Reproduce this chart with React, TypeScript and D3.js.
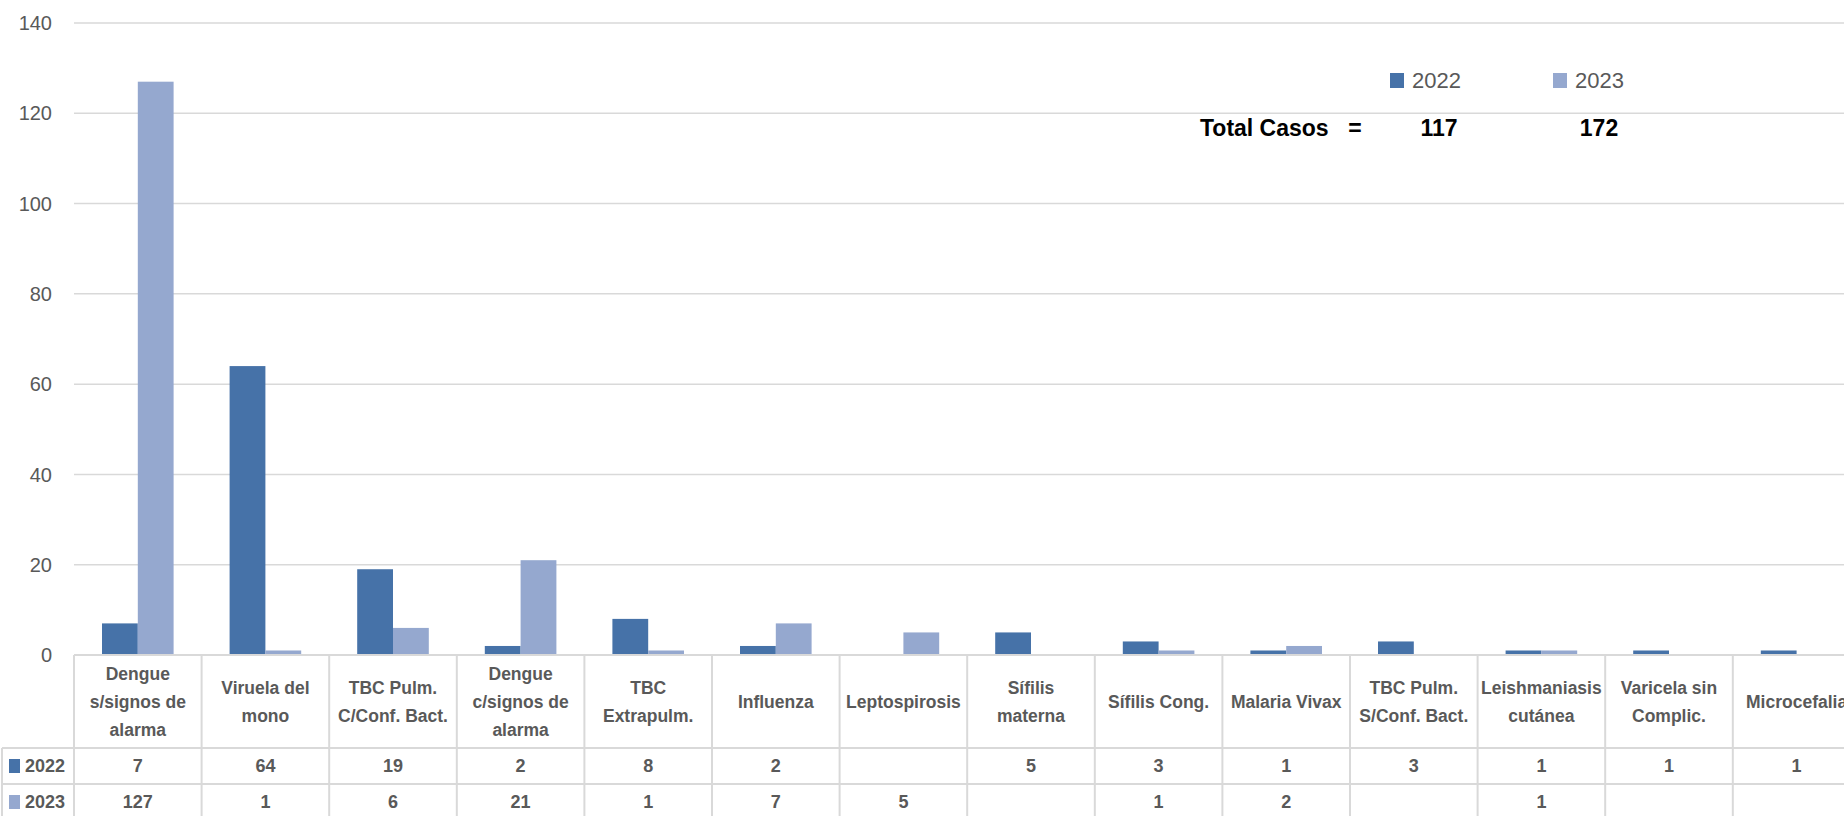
import React from 'react';
import * as d3 from 'd3';

// categories as shown in the table header (line breaks kept)
const categories = [
  'Dengue s/signos de alarma',
  'Viruela del mono',
  'TBC Pulm. C/Conf. Bact.',
  'Dengue c/signos de alarma',
  'TBC Extrapulm.',
  'Influenza',
  'Leptospirosis',
  'Sífilis materna',
  'Sífilis Cong.',
  'Malaria Vivax',
  'TBC Pulm. S/Conf. Bact.',
  'Leishmaniasis cutánea',
  'Varicela sin Complic.',
  'Microcefalia',
];
const categoryLines = [
  ['Dengue', 's/signos de', 'alarma'],
  ['Viruela del', 'mono'],
  ['TBC Pulm.', 'C/Conf. Bact.'],
  ['Dengue', 'c/signos de', 'alarma'],
  ['TBC', 'Extrapulm.'],
  ['Influenza'],
  ['Leptospirosis'],
  ['Sífilis', 'materna'],
  ['Sífilis Cong.'],
  ['Malaria Vivax'],
  ['TBC Pulm.', 'S/Conf. Bact.'],
  ['Leishmaniasis', 'cutánea'],
  ['Varicela sin', 'Complic.'],
  ['Microcefalia'],
];

const series = ['2022', '2023'];
const values2022: (number | null)[] = [7, 64, 19, 2, 8, 2, null, 5, 3, 1, 3, 1, 1, 1];
const values2023: (number | null)[] = [127, 1, 6, 21, 1, 7, 5, null, 1, 2, null, 1, null, null];
const seriesValues = [values2022, values2023];
const seriesColors = ['#4672A8', '#95A8CF'];
const totals = [117, 172];
const yTicks = [0, 20, 40, 60, 80, 100, 120, 140];

const W = 1844;
const H = 816;
const FONT = "'Liberation Sans', Arial, sans-serif";
const GRID = '#d9d9d9';
const TEXT = '#595959';

export default function App() {
  const left = 74;
  const bandW = 127.6;
  const x = d3.scaleBand<string>()
    .domain(categories)
    .range([left, left + bandW * categories.length])
    .paddingInner(0)
    .paddingOuter(0);
  const xs = d3.scaleBand<string>().domain(series).range([28, bandW - 28]);
  const y = d3.scaleLinear().domain([0, 140]).range([655, 23]);

  const base = y(0);
  const row1 = 748;
  const row2 = 784;
  const right = W;

  return (
    <svg width={W} height={H} style={{ position: 'absolute', left: 0, top: 0, background: '#fff' }}
      fontFamily={FONT}>
      {/* gridlines */}
      {yTicks.filter(t => t > 0).map(t => (
        <line key={t} x1={left} x2={right} y1={y(t)} y2={y(t)} stroke={GRID} strokeWidth={1.5} />
      ))}
      {yTicks.map(t => (
        <text key={'l' + t} x={52} y={y(t)} dy="0.36em" textAnchor="end" fontSize={20} fill={TEXT}>{t}</text>
      ))}

      {/* bars */}
      {categories.map((c, i) => (
        <g key={c} transform={`translate(${x(c)},0)`}>
          {series.map((s, j) => {
            const v = seriesValues[j][i];
            if (v == null) return null;
            return (
              <rect key={s} x={xs(s)} y={y(v)} width={xs.bandwidth()} height={base - y(v)}
                fill={seriesColors[j]} />
            );
          })}
        </g>
      ))}

      {/* data table */}
      <line x1={left} x2={right} y1={base} y2={base} stroke={GRID} strokeWidth={2} />
      <line x1={2} x2={right} y1={row1} y2={row1} stroke={GRID} strokeWidth={2} />
      <line x1={2} x2={right} y1={row2} y2={row2} stroke={GRID} strokeWidth={2} />
      <line x1={2} x2={2} y1={row1} y2={H} stroke={GRID} strokeWidth={2} />
      {categories.map(c => (
        <line key={'v' + c} x1={x(c)} x2={x(c)} y1={base} y2={H} stroke={GRID} strokeWidth={2} />
      ))}
      <line x1={left + bandW * categories.length} x2={left + bandW * categories.length} y1={base} y2={H}
        stroke={GRID} strokeWidth={2} />

      {categories.map((c, i) => {
        const lines = categoryLines[i];
        const cx = (x(c) as number) + bandW / 2;
        const mid = (base + row1) / 2;
        const lh = 28;
        const start = mid - ((lines.length - 1) * lh) / 2;
        return (
          <text key={'t' + c} textAnchor="middle" fontSize={17.5} fontWeight="bold" fill={TEXT}>
            {lines.map((ln, k) => (
              <tspan key={k} x={cx} y={start + k * lh} dy="0.36em">{ln}</tspan>
            ))}
          </text>
        );
      })}

      {series.map((s, j) => {
        const top = j === 0 ? row1 : row2;
        const cy = top + 18;
        return (
          <g key={'row' + s}>
            <rect x={9} y={cy - 7} width={11} height={14} fill={seriesColors[j]} />
            <text x={25} y={cy} dy="0.36em" fontSize={18} fontWeight="bold" fill={TEXT}>{s}</text>
            {categories.map((c, i) => {
              const v = seriesValues[j][i];
              if (v == null) return null;
              return (
                <text key={c} x={(x(c) as number) + bandW / 2} y={cy} dy="0.36em" textAnchor="middle"
                  fontSize={18} fontWeight="bold" fill={TEXT}>{v}</text>
              );
            })}
          </g>
        );
      })}

      {/* legend */}
      {series.map((s, j) => {
        const lx = j === 0 ? 1390 : 1553;
        return (
          <g key={'lg' + s}>
            <rect x={lx} y={73} width={14} height={15} fill={seriesColors[j]} />
            <text x={lx + 22} y={80.5} dy="0.36em" fontSize={22} fill={TEXT}>{s}</text>
          </g>
        );
      })}
      <text x={1200} y={128} dy="0.36em" fontSize={23} fontWeight="bold" fill="#000">Total Casos</text>
      <text x={1355} y={128} dy="0.36em" textAnchor="middle" fontSize={23} fontWeight="bold" fill="#000">=</text>
      {totals.map((t, j) => (
        <text key={'tot' + j} x={j === 0 ? 1439 : 1599} y={128} dy="0.36em" textAnchor="middle"
          fontSize={23} fontWeight="bold" fill="#000">{t}</text>
      ))}
    </svg>
  );
}
